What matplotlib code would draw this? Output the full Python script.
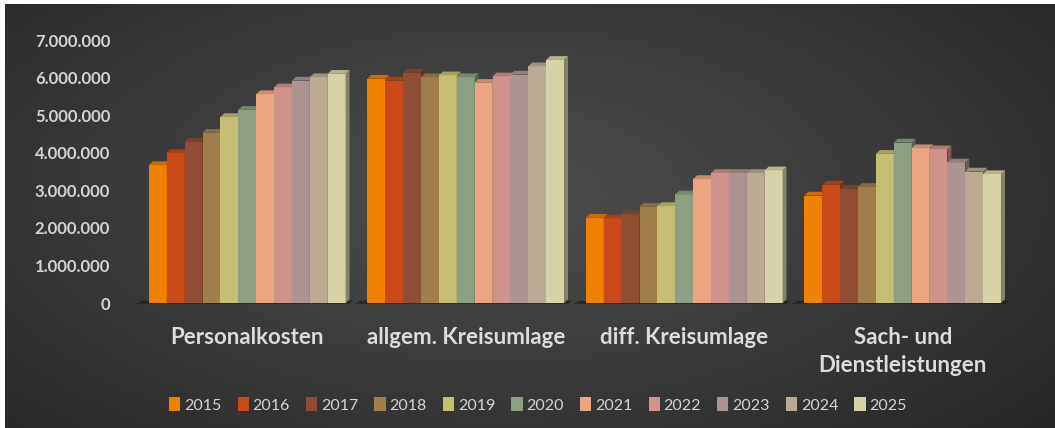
import numpy as np
import matplotlib
matplotlib.use("Agg")
import matplotlib.pyplot as plt
from matplotlib.patches import Polygon, Patch
from matplotlib.ticker import FuncFormatter

# Data
categories = ["Personalkosten", "allgem. Kreisumlage", "diff. Kreisumlage", "Sach- und\nDienstleistungen"]
years = ["2015", "2016", "2017", "2018", "2019", "2020", "2021", "2022", "2023", "2024", "2025"]

personalkosten = [3.67, 3.99, 4.29, 4.53, 4.95, 5.14, 5.56, 5.74, 5.92, 6.01, 6.10]
allgem_kreisumlage = [5.97, 5.92, 6.13, 6.01, 6.06, 6.01, 5.86, 6.03, 6.08, 6.30, 6.47]
diff_kreisumlage = [2.27, 2.25, 2.36, 2.56, 2.58, 2.89, 3.30, 3.46, 3.46, 3.46, 3.53]
sach_dienst = [2.86, 3.15, 3.04, 3.09, 3.97, 4.27, 4.12, 4.09, 3.74, 3.50, 3.43]

colors = ["#ef8000", "#c94a18", "#8f4e34", "#a17f4a", "#c5be74", "#8c9f82",
          "#eba681", "#cf938b", "#ab9491", "#bbab95", "#d7d3a8"]

values = np.array([personalkosten, allgem_kreisumlage, diff_kreisumlage, sach_dienst]) * 1e6

plt.rcParams['font.family'] = ['Lato', 'DejaVu Sans']

fig = plt.figure(figsize=(10.55, 4.28), dpi=100)
fig.patch.set_facecolor("white")

# dark radial background
bg = fig.add_axes([5 / 1055, 0, 1 - 5 / 1055, 1 - 4 / 428])
yy, xx = np.mgrid[0:1:300j, 0:1:700j]
r = np.sqrt(((xx - 0.47) / 0.75) ** 2 + ((yy - 0.45) / 0.9) ** 2)
shade = np.clip(0.31 - 0.17 * r, 0.14, 0.31)
bg.imshow(np.dstack([shade, shade, shade]), aspect="auto", extent=[0, 1, 0, 1])
bg.axis("off")

ax = fig.add_axes([138 / 1055, (428 - 303) / 428, (1012 - 138) / 1055, (303 - 40) / 428])
ax.set_facecolor("none")
ax.set_xlim(-0.5, 3.5)
ax.set_ylim(0, 7e6)

n = len(years)
group_w = 0.9
w = group_w / n
dx = 0.018
dy = 0.1e6

def darker(c, f):
    r, g, b = matplotlib.colors.to_rgb(c)
    return (r * f, g * f, b * f)

z = 2
for ci in range(len(categories)):
    left = ci - group_w / 2
    # floor shadow
    ax.add_patch(Polygon([(left - 0.06, -0.02e6), (left + group_w + dx, -0.02e6),
                          (left + group_w + dx + 0.02, 0.06e6), (left - 0.03, 0.06e6)],
                         closed=True, facecolor="#111111", alpha=0.55, edgecolor="none",
                         zorder=1, clip_on=False))
    for yi in range(n):
        x0 = left + yi * w
        h = values[ci, yi]
        ax.bar(x0 + w / 2, h, width=w, color=colors[yi], zorder=z)
        ax.add_patch(Polygon([(x0 + w, 0), (x0 + w + dx, dy), (x0 + w + dx, h + dy), (x0 + w, h)],
                             closed=True, facecolor=darker(colors[yi], 0.62), edgecolor="none", zorder=z))
        ax.add_patch(Polygon([(x0, h), (x0 + dx, h + dy), (x0 + w + dx, h + dy), (x0 + w, h)],
                             closed=True, facecolor=darker(colors[yi], 0.85), edgecolor="none", zorder=z))
        z += 1

for s in ax.spines.values():
    s.set_visible(False)

ax.set_yticks(np.arange(0, 7.01e6, 1e6))
ax.yaxis.set_major_formatter(FuncFormatter(lambda v, p: f"{int(v):,}".replace(",", ".")))
ax.tick_params(axis="y", length=0, pad=20, labelsize=12, labelcolor="#d4d4d4")
for t in ax.get_yticklabels():
    t.set_fontweight("bold")

ax.set_xticks(range(len(categories)))
ax.set_xticklabels(categories, fontsize=16, fontweight="bold", color="#dcdcdc", linespacing=1.45, va="top")
ax.tick_params(axis="x", length=0, pad=17)

handles = [Patch(facecolor=c, edgecolor="none", label=y) for c, y in zip(colors, years)]
fig.legend(handles=handles, loc="center", bbox_to_anchor=(538 / 1055, 23 / 428), ncol=n,
           frameon=False, fontsize=11.5, labelcolor="#d4d4d4", handlelength=0.7, handleheight=0.9,
           handletextpad=0.25, columnspacing=1.0)

fig.savefig("out.png", dpi=100, facecolor=fig.get_facecolor())
